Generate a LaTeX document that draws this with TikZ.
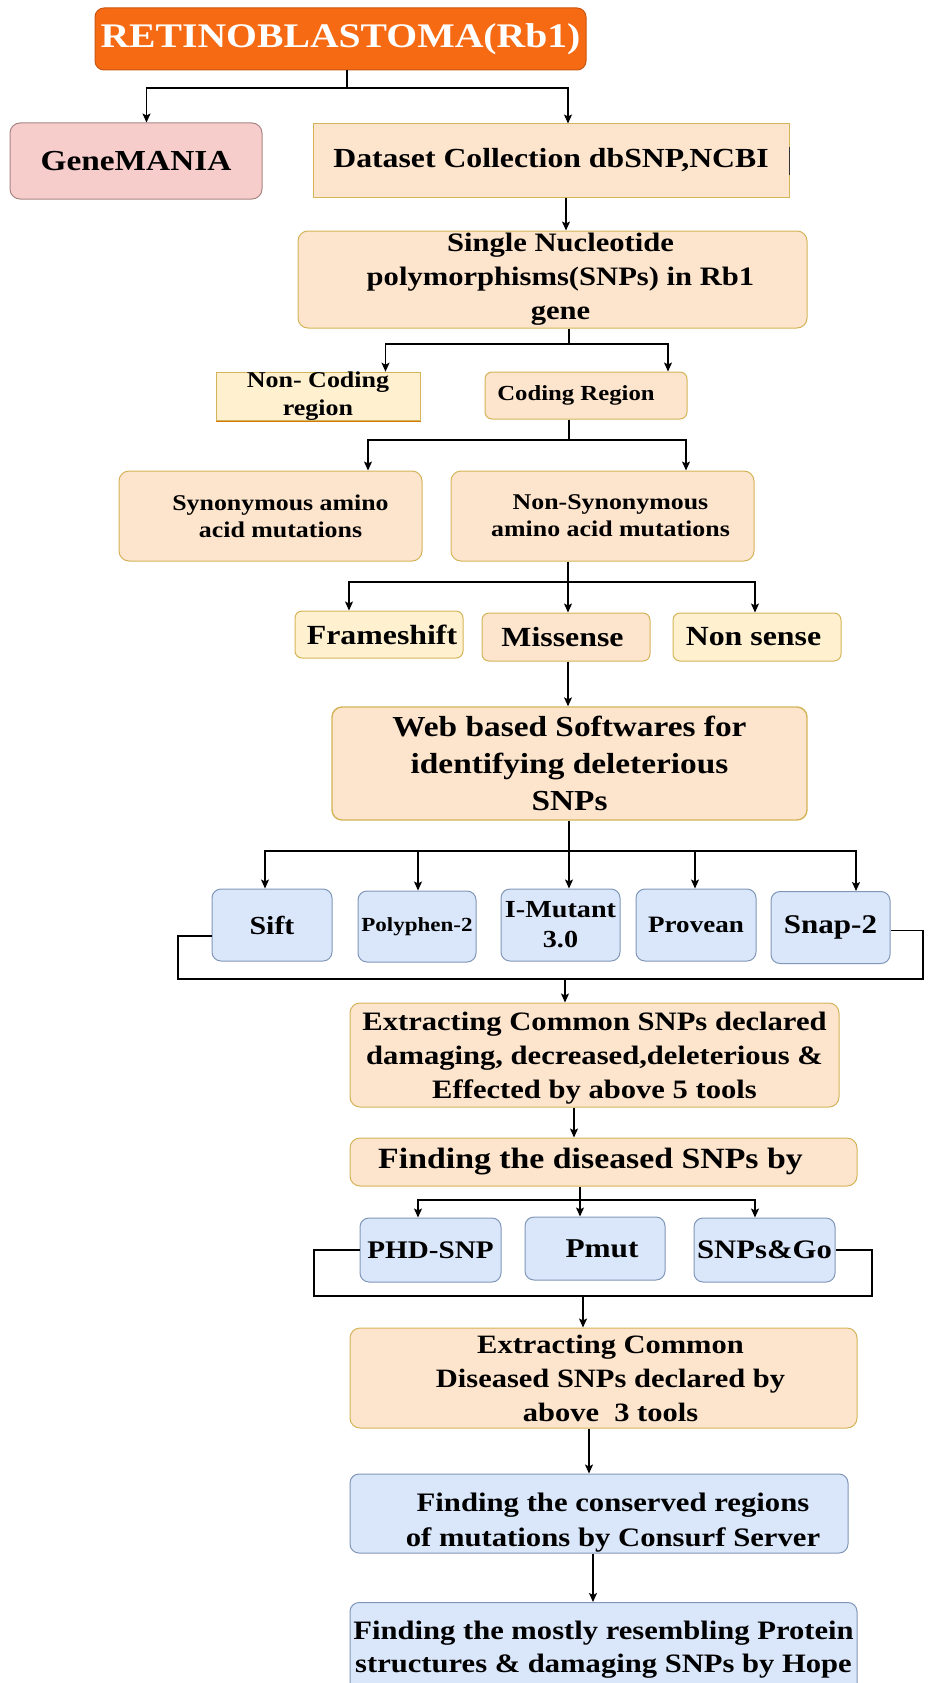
\documentclass[tikz,border=0pt]{standalone}
\usepackage{fontspec}
\setmainfont{Liberation Serif}[FakeStretch=1.15]
\usetikzlibrary{arrows.meta}
\definecolor{orangeF}{HTML}{F76A14}
\definecolor{orangeD}{HTML}{C9560F}
\definecolor{pinkF}{HTML}{F7CDCB}
\definecolor{pinkD}{HTML}{A88684}
\definecolor{peachF}{HTML}{FDE4CC}
\definecolor{peachD}{HTML}{D4B458}
\definecolor{yelF}{HTML}{FFF1CF}
\definecolor{blueF}{HTML}{DAE7FA}
\definecolor{blueD}{HTML}{8097B8}
\newcommand{\fsz}[2]{\fontsize{#1}{#2}\selectfont\bfseries}
\begin{document}
\begin{tikzpicture}[x=1pt,y=-1pt,
  box/.style={draw, line width=1pt, inner sep=0pt, align=center},
  titlebox/.style={box, fill=orangeF, draw=orangeD, rounded corners=9pt, text=white},
  pinkbox/.style={box, fill=pinkF, draw=pinkD, rounded corners=10pt},
  peachbox/.style={box, fill=peachF, draw=peachD, rounded corners=10pt},
  peachsq/.style={box, fill=peachF, draw=peachD},
  yelbox/.style={box, fill=yelF, draw=peachD, rounded corners=7pt},
  yelsq/.style={box, fill=yelF, draw=peachD},
  bluebox/.style={box, fill=blueF, draw=blueD, rounded corners=9pt},
  conn/.style={line width=1.2pt, black},
  arr/.style={conn, -{Stealth[length=9pt,width=8pt,inset=2pt]}}
]
\clip (0,0) rectangle (927,1683);
\fill[white] (0,0) rectangle (927,1683);

% ---------- nodes ----------
\node[titlebox, minimum width=491, minimum height=62, font=\fsz{34.5}{40}] (title) at (340.5,39) {RETINOBLASTOMA(Rb1)};
\node[pinkbox, minimum width=252, minimum height=76, font=\fsz{29}{34}] (gene) at (136,161) {GeneMANIA};
\node[peachsq, minimum width=476, minimum height=73, font=\fsz{27.6}{34}] (dataset) at (551,160.5) {Dataset Collection dbSNP,NCBI};
\node[peachbox, minimum width=509, minimum height=97, font=\fsz{26.6}{34}] (snps) at (552.5,279.5) {\hspace*{16pt}Single Nucleotide\\\hspace*{16pt}polymorphisms(SNPs) in Rb1\\\hspace*{16pt}gene};
\node[yelsq, minimum width=204, minimum height=47, font=\fsz{22.6}{28}] (noncoding) at (318,396.5) {Non- Coding\\region};
\node[peachbox, rounded corners=7pt, minimum width=202, minimum height=47, font=\fsz{21.5}{26}] (coding) at (586,395.5) {Coding Region\hspace*{20pt}};
\node[peachbox, minimum width=303, minimum height=90, font=\fsz{22.5}{27}] (syn) at (270.5,516) {\hspace*{20pt}Synonymous amino\\\hspace*{20pt}acid mutations};
\node[peachbox, minimum width=303, minimum height=90, font=\fsz{22.5}{27}] (nonsyn) at (602.5,516) {\hspace*{16pt}Non-Synonymous\\\hspace*{16pt}amino acid mutations};
\node[yelbox, minimum width=168, minimum height=47, font=\fsz{27.7}{32}] (frame) at (379,634.5) {\hspace*{6pt}Frameshift};
\node[peachbox, rounded corners=7pt, minimum width=168, minimum height=48, font=\fsz{27.7}{32}] (miss) at (566,637) {Missense\hspace*{7pt}};
\node[yelbox, minimum width=168, minimum height=48, font=\fsz{27.7}{32}] (nonsense) at (757,637) {Non sense\hspace*{7pt}};
\node[peachbox, line width=1.4pt, minimum width=475, minimum height=113, font=\fsz{29}{37}] (web) at (569.5,763.5) {Web based Softwares for\\identifying deleterious\\SNPs};
\node[bluebox, minimum width=120, minimum height=72, font=\fsz{26}{30}] (sift) at (272,925) {Sift};
\node[bluebox, minimum width=118, minimum height=71, font=\fsz{20}{24}] (poly) at (417,926.5) {Polyphen-2};
\node[bluebox, minimum width=119, minimum height=72, font=\fsz{24.5}{30}] (imut) at (560.5,925) {I-Mutant\\3.0};
\node[bluebox, minimum width=120, minimum height=72, font=\fsz{23.5}{28}] (prov) at (696,925) {Provean};
\node[bluebox, minimum width=119, minimum height=72, font=\fsz{27}{32}] (snap) at (830.5,927.5) {Snap-2};
\node[peachbox, minimum width=489, minimum height=104, font=\fsz{26.6}{34}] (ext5) at (594.5,1055) {\rule{0pt}{25pt}Extracting Common SNPs declared\\damaging, decreased,deleterious \&\\Effected by above 5 tools};
\node[peachbox, minimum width=507, minimum height=48, font=\fsz{29.4}{34}] (find) at (603.5,1162) {Finding the diseased SNPs by\hspace*{26pt}};
\node[bluebox, minimum width=141, minimum height=64, font=\fsz{25.3}{30}] (phd) at (430.5,1250) {PHD-SNP};
\node[bluebox, minimum width=140, minimum height=63, font=\fsz{27.2}{32}] (pmut) at (595,1248.5) {\hspace*{14pt}Pmut};
\node[bluebox, minimum width=141, minimum height=64, font=\fsz{26.7}{32}] (sng) at (764.5,1250) {SNPs\&Go};
\node[peachbox, minimum width=507, minimum height=100, font=\fsz{26.5}{34}] (ext3) at (603.5,1378) {\hspace*{14pt}Extracting Common\\\hspace*{14pt}Diseased SNPs declared by\\\hspace*{14pt}above\ \ 3 tools};
\node[bluebox, minimum width=498, minimum height=79, font=\fsz{26.7}{35}] (cons) at (599,1513.5) {\rule{0pt}{37pt}\hspace*{28pt}Finding the conserved regions\\\hspace*{28pt}of mutations by Consurf Server};
\node[bluebox, anchor=north, minimum width=507, minimum height=94, font=\fsz{26.6}{33}] (hope) at (603.5,1602) {Finding the mostly resembling Protein\\structures \& damaging SNPs by Hope};

% small decorations
\draw[orangeD!80!yellow, line width=1.6pt] (noncoding.south west) -- (noncoding.south east);
\draw[black!80, line width=1.8pt] ([yshift=14pt]dataset.east) -- ([yshift=-14pt]dataset.east);

% ---------- connectors ----------
\coordinate (b1) at (347,88);
\coordinate (b1l) at (146.5,88);
\coordinate (b1r) at (568,88);
\draw[conn] (title.south -| b1) -- (b1);
\draw[arr] (b1) -| (gene.north -| b1l);
\draw[arr] (b1) -| (dataset.north -| b1r);

\coordinate (c1) at (566,200);
\draw[arr] (dataset.south -| c1) -- (snps.north -| c1);

\coordinate (b2) at (569,344);
\coordinate (b2l) at (385.5,344);
\coordinate (b2r) at (668,344);
\draw[conn] (snps.south -| b2) -- (b2);
\draw[arr] (b2) -| (noncoding.north -| b2l);
\draw[arr] (b2) -| (coding.north -| b2r);

\coordinate (b3) at (569,440);
\coordinate (b3l) at (368,440);
\coordinate (b3r) at (686,440);
\draw[conn] (coding.south -| b3) -- (b3);
\draw[arr] (b3) -| (syn.north -| b3l);
\draw[arr] (b3) -| (nonsyn.north -| b3r);

\coordinate (b4) at (568,582);
\coordinate (b4l) at (349,582);
\coordinate (b4r) at (755,582);
\draw[arr] (nonsyn.south -| b4) -- (miss.north -| b4);
\draw[arr] (b4) -| (frame.north -| b4l);
\draw[arr] (b4) -| (nonsense.north -| b4r);

\draw[arr] (miss.south -| b4) -- (web.north -| b4);

\coordinate (b5) at (569,851);
\coordinate (g1) at (265,851);
\coordinate (g2) at (418,851);
\coordinate (g4) at (695,851);
\coordinate (g5) at (856,851);
\draw[arr] (web.south -| b5) -- (imut.north -| b5);
\draw[arr] (b5) -| (sift.north -| g1);
\draw[arr] (b5) -| (poly.north -| g2);
\draw[arr] (b5) -| (prov.north -| g4);
\draw[arr] (b5) -| (snap.north -| g5);

\coordinate (h1) at (178,979);
\coordinate (h2) at (923,979);
\coordinate (h3) at (565,979);
\draw[conn] ([yshift=-11pt]sift.west) -| (h1) -- (h2) |- ([yshift=-3pt]snap.east);
\draw[arr] (h3) -- (ext5.north -| h3);

\coordinate (i1) at (574,1110);
\draw[arr] (ext5.south -| i1) -- (find.north -| i1);

\coordinate (b6) at (580,1200);
\coordinate (b6l) at (418,1200);
\coordinate (b6r) at (755,1200);
\draw[arr] (find.south -| b6) -- (pmut.north -| b6);
\draw[arr] (b6) -| (phd.north -| b6l);
\draw[arr] (b6) -| (sng.north -| b6r);

\coordinate (k1) at (314,1296);
\coordinate (k2) at (872,1296);
\coordinate (k3) at (583,1296);
\draw[conn] (phd.west) -| (k1) -- (k2) |- (sng.east);
\draw[arr] (k3) -- (ext3.north -| k3);

\coordinate (l1) at (589,1430);
\draw[arr] (ext3.south -| l1) -- (cons.north -| l1);

\coordinate (m1) at (593,1556);
\draw[arr] (cons.south -| m1) -- (hope.north -| m1);
\end{tikzpicture}
\end{document}
